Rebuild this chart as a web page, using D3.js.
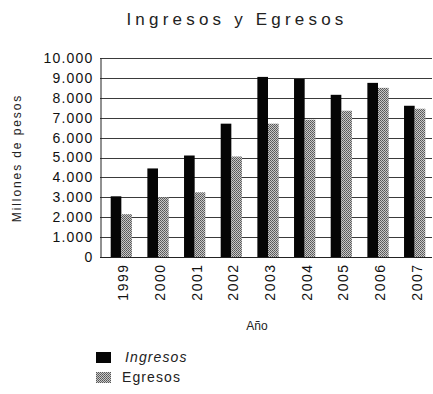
<!DOCTYPE html>
<html><head><meta charset="utf-8">
<script src="https://cdn.jsdelivr.net/npm/d3@7"></script>
<style>body{margin:0;background:#fff}svg{display:block}</style>
</head><body>
<script>
const years = ["1999","2000","2001","2002","2003","2004","2005","2006","2007"];
const ingresos = [3050, 4450, 5100, 6700, 9050, 8950, 8150, 8750, 7600];
const egresos  = [2150, 3000, 3250, 5050, 6700, 6900, 7350, 8500, 7450];
const yTicks = [0,1000,2000,3000,4000,5000,6000,7000,8000,9000,10000];
const seriesNames = ["Ingresos","Egresos"];
const title = "Ingresos y Egresos";
const yLabel = "Millones de pesos";
const xLabel = "Año";

const W=433,H=394;
const svg=d3.select("body").append("svg").attr("width",W).attr("height",H);
const defs=svg.append("defs");
const pat=defs.append("pattern").attr("id","dots").attr("patternUnits","userSpaceOnUse").attr("width",2).attr("height",2);
pat.append("rect").attr("width",2).attr("height",2).attr("fill","#c8c8c8");
pat.append("rect").attr("width",1).attr("height",1).attr("fill","#555");
pat.append("rect").attr("x",1).attr("y",1).attr("width",1).attr("height",1).attr("fill","#666");

const font="Liberation Sans, Arial, sans-serif";
const y=d3.scaleLinear().domain([0,10000]).range([257,58]);
const x=d3.scaleBand().domain(years).range([103,433]).paddingInner(0.42).paddingOuter(0.21);
const xs=d3.scaleBand().domain(seriesNames).range([0,x.bandwidth()]);

// grid
svg.append("g").selectAll("line").data(yTicks.slice(1)).join("line")
 .attr("x1",100).attr("x2",432).attr("y1",d=>Math.round(y(d))+0.5).attr("y2",d=>Math.round(y(d))+0.5)
 .attr("stroke","#3a3a3a").attr("stroke-width",1);

// bars
const g=svg.append("g");
years.forEach((yr,i)=>{
  g.append("rect").attr("x",x(yr)+xs("Ingresos")).attr("width",xs.bandwidth())
   .attr("y",y(ingresos[i])).attr("height",y(0)-y(ingresos[i])).attr("fill","#050505");
  g.append("rect").attr("x",x(yr)+xs("Egresos")).attr("width",xs.bandwidth())
   .attr("y",y(egresos[i])).attr("height",y(0)-y(egresos[i])).attr("fill","url(#dots)");
});

// y axis
const ya=svg.append("g").attr("transform","translate(100.5,0)")
 .call(d3.axisLeft(y).tickValues(yTicks).tickSize(0).tickPadding(7)
   .tickFormat(d=>d3.format(",")(d).replace(/,/g,".")));
ya.select(".domain").attr("stroke","#222");
ya.selectAll("text").attr("font-family",font).attr("font-size",14).attr("letter-spacing",1.2).attr("fill","#111");

// x axis
const xa=svg.append("g").attr("transform","translate(0,257.5)")
 .call(d3.axisBottom(x).tickSize(0).tickPadding(0));
xa.select(".domain").attr("stroke","#222").attr("d","M100,0H432");
xa.selectAll("text").attr("font-family",font).attr("font-size",14).attr("letter-spacing",1.5).attr("fill","#111")
 .attr("text-anchor","end").attr("transform","translate(2,6) rotate(-90)").attr("dy","0.35em").attr("dx","0");

// title
svg.append("text").attr("x",237).attr("y",25).attr("text-anchor","middle")
 .attr("font-family",font).attr("font-size",17).attr("letter-spacing",4.2).attr("fill","#222").text(title);
// y label
svg.append("text").attr("transform","translate(20.5,158) rotate(-90)").attr("text-anchor","middle")
 .attr("font-family",font).attr("font-size",12).attr("letter-spacing",1.9).attr("fill","#222").text(yLabel);
// x label
svg.append("text").attr("x",257).attr("y",330).attr("text-anchor","middle")
 .attr("font-family",font).attr("font-size",12).attr("fill","#222").text(xLabel);

// legend
const lg=svg.append("g");
const ly=[352,372];
seriesNames.forEach((s,i)=>{
  lg.append("rect").attr("x",96).attr("y",ly[i]).attr("width",15).attr("height",11)
   .attr("fill",i===0?"#050505":"url(#dots)");
  lg.append("text").attr("x",i===0?125:122).attr("y",ly[i]+10)
   .attr("font-family",font).attr("font-size",14).attr("letter-spacing",1.1).attr("font-style",i===0?"italic":"normal")
   .attr("fill","#222").text(s);
});
</script>
</body></html>
